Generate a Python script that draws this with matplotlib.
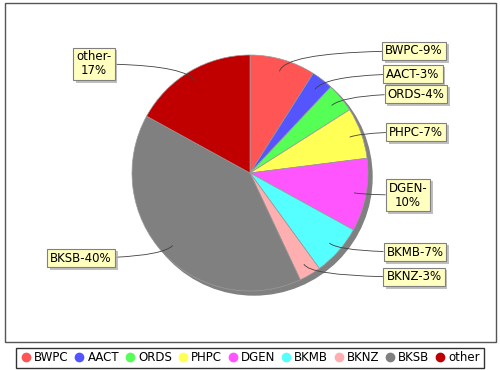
import numpy as np
import matplotlib.pyplot as plt
from matplotlib.patches import Rectangle, Circle
from matplotlib.lines import Line2D
import matplotlib.patheffects as pe

names = ['BWPC', 'AACT', 'ORDS', 'PHPC', 'DGEN', 'BKMB', 'BKNZ', 'BKSB', 'other']
values = [9, 3, 4, 7, 10, 7, 3, 40, 17]
labels = ['BWPC-9%', 'AACT-3%', 'ORDS-4%', 'PHPC-7%', 'DGEN-\n10%',
          'BKMB-7%', 'BKNZ-3%', 'BKSB-40%', 'other-\n17%']
colors = ['#FF5555', '#5555FF', '#55FF55', '#FFFF55', '#FF55FF',
          '#55FFFF', '#FFAFAF', '#808080', '#C00000']

# label box centres in pixels (x, y from top)
label_pos = [(414, 51), (413, 74), (416, 94), (416, 132), (408, 195),
             (415, 252), (414, 277), (81, 258), (94, 64)]

W, H = 500, 370
fig = plt.figure(figsize=(5, 3.7), dpi=100)
ax = fig.add_axes([0, 0, 1, 1])

cx, cy, R = 250, H - 173, 118

# shadow
ax.add_patch(Circle((cx + 4, cy - 4), R, color='#808080', zorder=0))

wedges, _ = ax.pie(values, colors=colors, startangle=90, counterclock=False,
                   center=(cx, cy), radius=R,
                   wedgeprops=dict(edgecolor='#9a9a9a', linewidth=0.5))

for w, lab, (lx, ly) in zip(wedges, labels, label_pos):
    a = np.deg2rad((w.theta1 + w.theta2) / 2)
    px = cx + 0.9 * R * np.cos(a)
    py = cy + 0.9 * R * np.sin(a)
    ang = np.rad2deg(a)
    t = ax.annotate(lab, xy=(px, py), xytext=(lx, H - ly),
                    ha='center', va='center', fontsize=8.5, multialignment='center',
                    linespacing=1.1,
                    bbox=dict(boxstyle='square,pad=0.25', fc='#FFFFC0', ec='#808080', lw=0.8),
                    arrowprops=dict(arrowstyle='-', color='#404040', lw=0.6,
                                    connectionstyle=f'angle3,angleA=0,angleB={ang:.1f}',
                                    shrinkA=0, shrinkB=0))
    t.get_bbox_patch().set_path_effects([
        pe.SimplePatchShadow(offset=(2, -2), shadow_rgbFace='#b0b0b0', alpha=0.8),
        pe.Normal()])

ax.add_patch(Rectangle((5, H - 342), 491, 339, fill=False, ec='#555555', lw=1))

ax.set_xlim(0, W)
ax.set_ylim(0, H)
ax.set_aspect('auto')
ax.axis('off')

handles = [Line2D([], [], marker='o', ls='', color=c, markersize=6) for c in colors]
leg = fig.legend(handles, names, loc='lower center', bbox_to_anchor=(0.5, 2 / H),
                 ncol=9, fontsize=8.5, frameon=True, fancybox=False, edgecolor='black',
                 handletextpad=0.2, columnspacing=0.4, borderpad=0.3, handlelength=1.0,
                 borderaxespad=0)
leg.get_frame().set_linewidth(1)

fig.savefig('out.png', dpi=100)
